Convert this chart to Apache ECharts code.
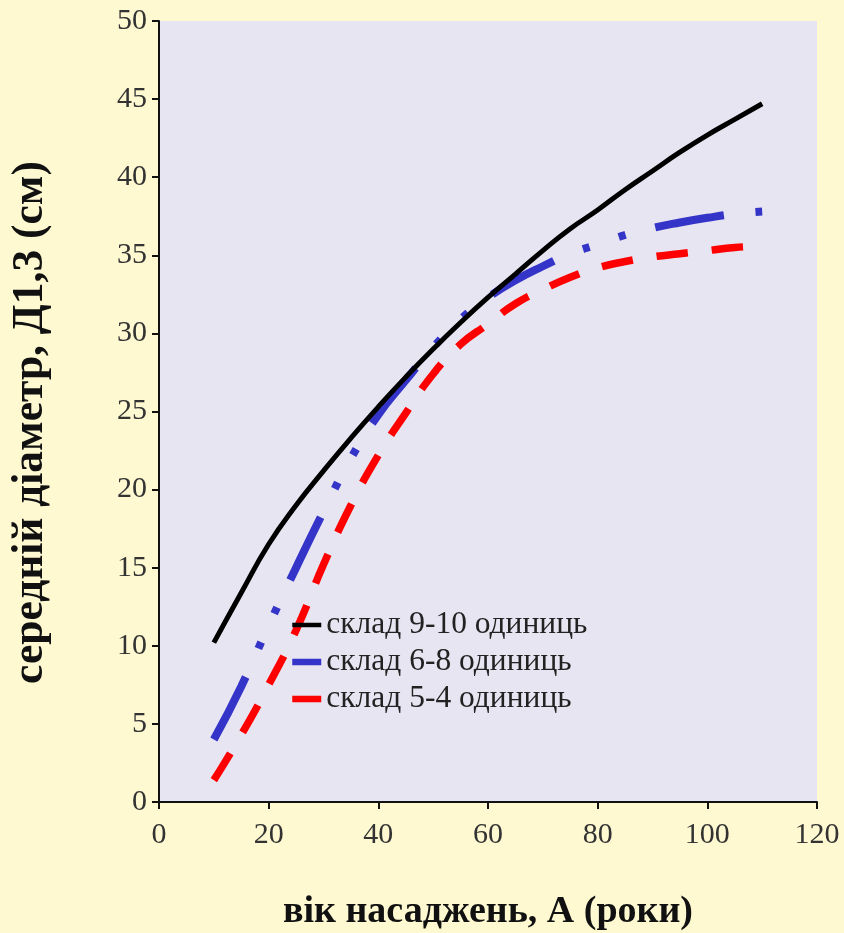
<!DOCTYPE html>
<html><head><meta charset="utf-8">
<script src="https://cdn.jsdelivr.net/npm/echarts@6/dist/echarts.min.js"></script>
<style>html,body{margin:0;padding:0;background:#FFF9D2;}#c{width:844px;height:933px;}</style>
</head><body><div id="c"></div>
<script>
const ages = [10,15,20,25,30,35,40,45,50,55,60,65,70,75,80,85,90,95,100,105,110];
const comp9_10 = [10.2,13.4,16.5,19.0,21.2,23.3,25.3,27.2,29.0,30.7,32.3,33.8,35.3,36.7,37.9,39.2,40.4,41.6,42.7,43.7,44.7];
const comp6_8 = [4.0,7.4,11.3,15.0,18.6,22.0,24.8,27.0,29.1,30.9,32.3,33.4,34.3,35.1,35.7,36.3,36.75,37.1,37.4,37.65,37.8];
const comp5_4 = [1.4,4.3,7.5,11.0,15.2,19.0,22.2,24.9,27.4,29.3,30.6,31.9,32.8,33.6,34.2,34.6,34.9,35.1,35.3,35.5,35.6];
const seriesNames = ['склад 9-10 одиниць','склад 6-8 одиниць','склад 5-4 одиниць'];
const xTitle = 'вік насаджень, А (роки)';
const yTitle = 'середній діаметр, Д1,3 (см)';

const pair = (xs, ys) => xs.map((x, i) => [x, ys[i]]);
const font = 'Liberation Serif, Times New Roman, serif';
const colors = ['#000000', '#3434C8', '#FF0000'];
const legendWidths = [4.5, 6.5, 6.5];
const chart = echarts.init(document.getElementById('c'));
chart.setOption({
  backgroundColor: '#FFF9D2',
  animation: false,
  grid: {left: 159, right: 27, top: 21, bottom: 131, show: true, backgroundColor: '#E7E5F1', borderWidth: 0,
         containLabel: false, outerBoundsMode: 'none'},
  xAxis: {
    type: 'value', min: 0, max: 120, interval: 20,
    name: xTitle, nameLocation: 'middle', nameGap: 91,
    nameTextStyle: {fontFamily: font, fontSize: 38, fontWeight: 'bold', color: '#111'},
    axisLine: {show: true, lineStyle: {color: '#111', width: 2}},
    axisTick: {show: true, length: 7, lineStyle: {color: '#111', width: 2}},
    axisLabel: {fontFamily: font, fontSize: 30, color: '#333', margin: 18},
    splitLine: {show: false}
  },
  yAxis: {
    type: 'value', min: 0, max: 50, interval: 5,
    name: yTitle, nameLocation: 'middle', nameGap: 106, nameRotate: 90,
    nameTextStyle: {fontFamily: font, fontSize: 43.5, fontWeight: 'bold', color: '#111', padding: [0, 22, 0, 0]},
    axisLine: {show: true, lineStyle: {color: '#111', width: 2}},
    axisTick: {show: true, length: 7, lineStyle: {color: '#111', width: 2}},
    axisLabel: {fontFamily: font, fontSize: 30, color: '#333', margin: 12},
    splitLine: {show: false}
  },
  legend: {
    orient: 'vertical', left: 284, top: 604, itemGap: 5, itemWidth: 29, itemHeight: 4,
    textStyle: {fontFamily: font, fontSize: 31.5, color: '#222'},
    data: seriesNames.map((n, i) => ({name: n, lineStyle: {width: legendWidths[i], type: 'solid', color: colors[i]}}))
  },
  series: [
    {name: seriesNames[0], type: 'line', data: pair(ages, comp9_10), smooth: true, symbol: 'none', showSymbol: false,
     lineStyle: {color: colors[0], width: 5}, itemStyle: {color: colors[0]}, z: 3},
    {name: seriesNames[1], type: 'line', data: pair(ages, comp6_8), smooth: true, symbol: 'none', showSymbol: false,
     lineStyle: {color: colors[1], width: 8, type: [70, 31.5, 7, 31, 7, 30.5], cap: 'butt'}, itemStyle: {color: colors[1]}, z: 2},
    {name: seriesNames[2], type: 'line', data: pair(ages, comp5_4), smooth: true, symbol: 'none', showSymbol: false,
     lineStyle: {color: colors[2], width: 7.5, type: [31.5, 24], cap: 'butt'}, itemStyle: {color: colors[2]}, z: 1}
  ]
});
</script></body></html>
